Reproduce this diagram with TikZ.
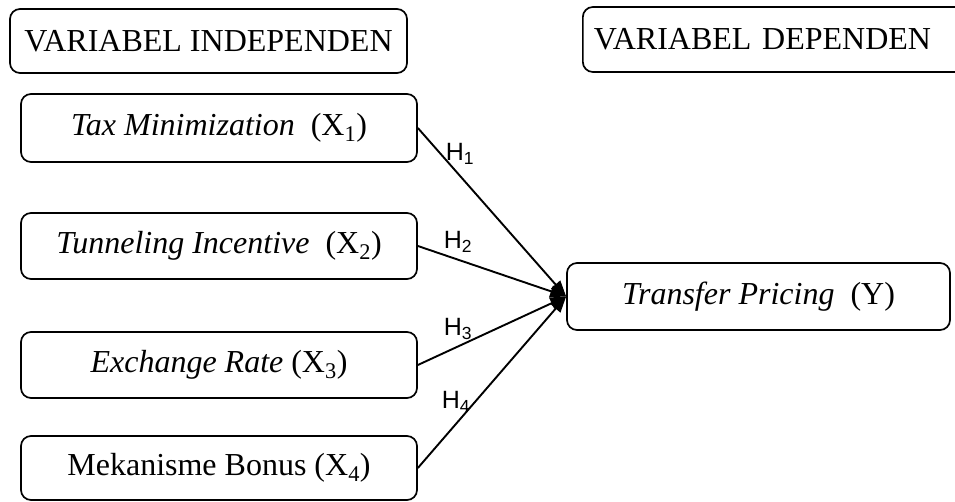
\documentclass[tikz,border=0pt]{standalone}
\usepackage{fontspec}
\setmainfont{Liberation Serif}
\newfontfamily\hfont{Liberation Sans}
\usetikzlibrary{arrows.meta}
\tikzset{
  vbox/.style={draw, line width=1.7pt, rounded corners=10pt, minimum width=396pt, minimum height=66pt, inner sep=0pt,
    font=\fontsize{32}{36}\selectfont},
  hlab/.style={font=\hfont\fontsize{25}{28}\selectfont, inner sep=0pt},
  conn/.style={line width=1.9pt, -{Triangle[length=16pt,width=12pt]}}
}
\begin{document}
\begin{tikzpicture}[x=1pt,y=-1pt]
\useasboundingbox (0,0) rectangle (955,502);
\clip (0,0) rectangle (955,502);
\node[vbox, minimum width=397pt, minimum height=64pt] (ind) at (208.5,41) {VARIABEL INDEPENDEN};
\node[vbox, anchor=west, minimum width=400pt, minimum height=65pt, text width=378pt, inner xsep=11pt, align=left] (dep) at (582,39.5) {VARIABEL DEPENDEN};
\node[vbox, minimum height=68pt] (x1) at (219,128) {\textit{Tax Minimization}\ \ (X\textsubscript{1})};
\node[vbox] (x2) at (219,246) {\textit{Tunneling Incentive}\ \ (X\textsubscript{2})};
\node[vbox] (x3) at (219,365) {\textit{Exchange Rate} (X\textsubscript{3})};
\node[vbox, minimum height=64pt] (x4) at (219,468) {Mekanisme Bonus (X\textsubscript{4})};
\node[vbox, minimum width=383pt, minimum height=67pt] (y) at (758.5,296.5) {\textit{Transfer Pricing}\ \ (Y)};
\draw[conn] (x1.east) -- (y.west);
\draw[conn] (x2.east) -- (y.west);
\draw[conn] (x3.east) -- (y.west);
\draw[conn] (x4.east) -- (y.west);
\node[hlab] (h1) at (460,154) {H\textsubscript{1}};
\node[hlab] (h2) at (458,242) {H\textsubscript{2}};
\node[hlab] (h3) at (458,329) {H\textsubscript{3}};
\node[hlab] (h4) at (456,402) {H\textsubscript{4}};
\end{tikzpicture}
\end{document}
